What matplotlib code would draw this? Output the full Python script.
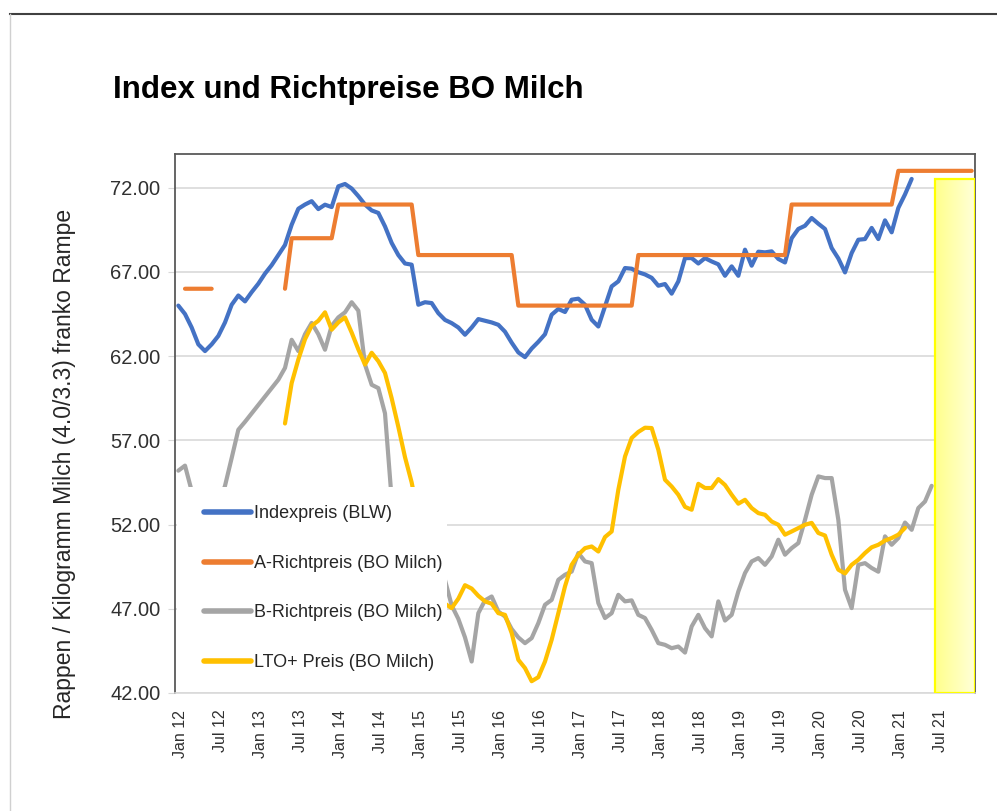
import numpy as np
import matplotlib
matplotlib.use("Agg")
import matplotlib.pyplot as plt
import matplotlib.transforms as mtransforms
from matplotlib.patches import Rectangle
from matplotlib.lines import Line2D

plt.rcParams['font.family'] = ['Liberation Sans', 'DejaVu Sans']

nan = np.nan

# monthly values, month 0 = Jan 2012
INDEXPREIS = [
    65.0, 64.5, 63.7, 62.7, 62.3, 62.7, 63.2, 64.0, 65.05, 65.6, 65.25, 65.8,
    66.3, 66.9, 67.4, 68.0, 68.6, 69.8, 70.75, 71.0, 71.2, 70.73, 70.99, 70.85,
    72.08, 72.22, 71.95, 71.5, 71.0, 70.65, 70.5, 69.7, 68.72, 68.0, 67.5, 67.43,
    65.05, 65.2, 65.15, 64.55, 64.15, 63.96, 63.7, 63.27, 63.7, 64.2, 64.1, 64.0,
    63.86, 63.45, 62.8, 62.22, 61.94, 62.45, 62.85, 63.3, 64.46, 64.8, 64.62, 65.35,
    65.41, 65.05, 64.16, 63.76, 64.95, 66.14, 66.44, 67.23, 67.19, 66.98, 66.85, 66.65,
    66.18, 66.28, 65.71, 66.44, 67.82, 67.82, 67.5, 67.82, 67.62, 67.45, 66.77, 67.33,
    66.77, 68.32, 67.37, 68.2, 68.16, 68.22, 67.77, 67.56, 69.0, 69.55, 69.74, 70.2,
    69.86, 69.55, 68.42, 67.8, 66.97, 68.12, 68.91, 68.95, 69.61, 68.95, 70.06, 69.35,
    70.8, 71.6, 72.52,
]

A_RICHTPREIS = (
    [nan] + [66.0] * 5 + [nan] * 10 + [66.0] + [69.0] * 7 + [71.0] * 12
    + [68.0] * 15 + [65.0] * 18 + [68.0] * 23 + [71.0] * 16 + [73.0] * 12
)

B_RICHTPREIS = [
    55.2, 55.5, 54.0, 52.8, 52.0, 52.3, 53.2, 54.3, 55.95, 57.63, 58.1, 58.6,
    59.1, 59.6, 60.1, 60.6, 61.3, 62.97, 62.3, 63.3, 63.97, 63.3, 62.38, 63.8,
    64.3, 64.6, 65.2, 64.7, 61.5, 60.3, 60.1, 58.6, 53.5, 50.5, 48.5, 47.5,
    47.2, 47.6, 48.0, 48.5, 48.7, 47.2, 46.4, 45.3, 43.87, 46.74, 47.5, 47.73,
    46.84, 46.54, 45.8, 45.3, 44.96, 45.26, 46.15, 47.24, 47.53, 48.72, 49.02, 49.21,
    50.31, 49.81, 49.71, 47.34, 46.45, 46.74, 47.83, 47.44, 47.5, 46.64, 46.45, 45.75,
    44.96, 44.86, 44.66, 44.76, 44.4, 45.95, 46.64, 45.85, 45.36, 47.44, 46.3, 46.64,
    48.03, 49.12, 49.81, 50.01, 49.61, 50.11, 51.1, 50.21, 50.6, 50.9, 52.28, 53.77,
    54.86, 54.76, 54.76, 52.28, 48.13, 47.04, 49.61, 49.71, 49.42, 49.2, 51.3, 50.8,
    51.2, 52.12, 51.69, 52.98, 53.37, 54.3,
]

LTO_PREIS = [nan] * 16 + [
    58.0, 60.4, 61.8, 63.0, 63.8, 64.1, 64.6, 63.57,
    64.0, 64.3, 63.4, 62.4, 61.5, 62.2, 61.7, 61.0, 59.5, 57.8, 56.0, 54.5,
    52.5, 51.0, 49.5, 48.3, 47.3, 47.04, 47.6, 48.4, 48.2, 47.77, 47.44, 47.3,
    46.74, 46.64, 45.56, 43.97, 43.48, 42.7, 42.94, 43.87, 45.16, 46.74, 48.33, 49.61,
    50.21, 50.6, 50.7, 50.4, 51.26, 51.59, 54.07, 56.04, 57.14, 57.5, 57.75, 57.73,
    56.44, 54.66, 54.26, 53.77, 53.05, 52.88, 54.42, 54.17, 54.17, 54.7, 54.35, 53.77,
    53.24, 53.47, 52.98, 52.68, 52.58, 52.18, 51.99, 51.4, 51.59, 51.79, 51.99, 52.1,
    51.5, 51.35, 50.21, 49.32, 49.1, 49.61, 49.91, 50.31, 50.65, 50.8, 51.05, 51.2,
    51.4, 51.8,
]

SERIES = [
    ("Indexpreis (BLW)", INDEXPREIS, "#4472C4"),
    ("A-Richtpreis (BO Milch)", A_RICHTPREIS, "#ED7D31"),
    ("B-Richtpreis (BO Milch)", B_RICHTPREIS, "#A5A5A5"),
    ("LTO+ Preis (BO Milch)", LTO_PREIS, "#FFC000"),
]

TICK_LABELS = ["Jan 12", "Jul 12", "Jan 13", "Jul 13", "Jan 14", "Jul 14", "Jan 15",
               "Jul 15", "Jan 16", "Jul 16", "Jan 17", "Jul 17", "Jan 18", "Jul 18",
               "Jan 19", "Jul 19", "Jan 20", "Jul 20", "Jan 21", "Jul 21"]
Y_TICKS = [42, 47, 52, 57, 62, 67, 72]
FORECAST_SPAN = (114, 120)   # months shaded yellow
FORECAST_TOP = 72.5

W, H = 997, 811
fig = plt.figure(figsize=(W / 100, H / 100), dpi=100)
ax = fig.add_axes([175 / W, 1 - 693 / H, 800 / W, 539 / H])

for label, vals, color in SERIES:
    y = np.array(vals, dtype=float)
    x = np.arange(len(y)) + 0.5
    ax.plot(x, y, color=color, lw=3.0, label=label,
            solid_joinstyle="round", solid_capstyle="round", zorder=2)

# yellow box (forecast area)
grad = np.linspace(0, 1, 50).reshape(1, -1)
cmap = matplotlib.colors.LinearSegmentedColormap.from_list("yl", ["#FFFF8C", "#FFFFD8"])
ax.imshow(grad, extent=(FORECAST_SPAN[0], FORECAST_SPAN[1], 42, FORECAST_TOP),
          aspect="auto", cmap=cmap, zorder=3)
ax.add_patch(Rectangle((FORECAST_SPAN[0], 42), FORECAST_SPAN[1] - FORECAST_SPAN[0],
                       FORECAST_TOP - 42, fill=False, edgecolor="#FFFF00", lw=1.6, zorder=3.5))

ax.set_xlim(0, 120)
ax.set_ylim(42, 74)

ax.set_xticks(np.arange(0, 120, 6))
ax.set_xticklabels(TICK_LABELS, rotation=90, fontsize=11.5, color="#303030")
ax.set_xticks(np.arange(0, 121, 6), minor=True)
ax.tick_params(axis="x", which="both", length=0, pad=12)
offset = mtransforms.ScaledTranslation(5 / 100, 0, fig.dpi_scale_trans)
for t in ax.get_xticklabels():
    t.set_transform(t.get_transform() + offset)

ax.set_yticks(Y_TICKS)
ax.set_yticklabels([f"{v:.2f}" for v in Y_TICKS], fontsize=14.5, color="#303030")
ax.tick_params(axis="y", length=5, color="#D9D9D9", pad=5.5)

ax.set_axisbelow(True)
ax.grid(axis="y", color="#D9D9D9", lw=1.2)
ax.grid(axis="x", which="minor", color="#D9D9D9", lw=1.2)

for side in ["top", "left", "right"]:
    ax.spines[side].set_color("#595959")
    ax.spines[side].set_linewidth(1.3)
ax.spines["bottom"].set_color("#D9D9D9")
ax.spines["bottom"].set_linewidth(1.2)

# white legend box covering the lines
ax.add_patch(Rectangle((0.002, 0.015), 0.338, 0.367, transform=ax.transAxes,
                       facecolor="white", edgecolor="none", zorder=4))
leg = ax.legend(loc="upper left", bbox_to_anchor=(0.036, 0.348), frameon=False,
                fontsize=13, handlelength=2.6, handletextpad=0.2,
                labelspacing=1.8, borderpad=0, borderaxespad=0)
leg.set_zorder(5)
for line in leg.get_lines():
    line.set_linewidth(4)
for t in leg.get_texts():
    t.set_color("#262626")

fig.text(113 / W, 1 - 98 / H, "Index und Richtpreise BO Milch", fontsize=22.5,
         fontweight="bold", ha="left", va="baseline", color="black")
fig.text(64 / W, 1 - 464 / H, "Rappen / Kilogramm Milch (4.0/3.3) franko Rampe",
         rotation=90, ha="center", va="center", fontsize=16.5, color="#262626")

# slide frame lines
fig.add_artist(Line2D([10 / W, 1], [1 - 14 / H, 1 - 14 / H], color="#404040", lw=1.5))
fig.add_artist(Line2D([10 / W, 10 / W], [0, 1 - 14 / H], color="#D0D0D0", lw=1.0))

fig.savefig("out.png", dpi=100)
